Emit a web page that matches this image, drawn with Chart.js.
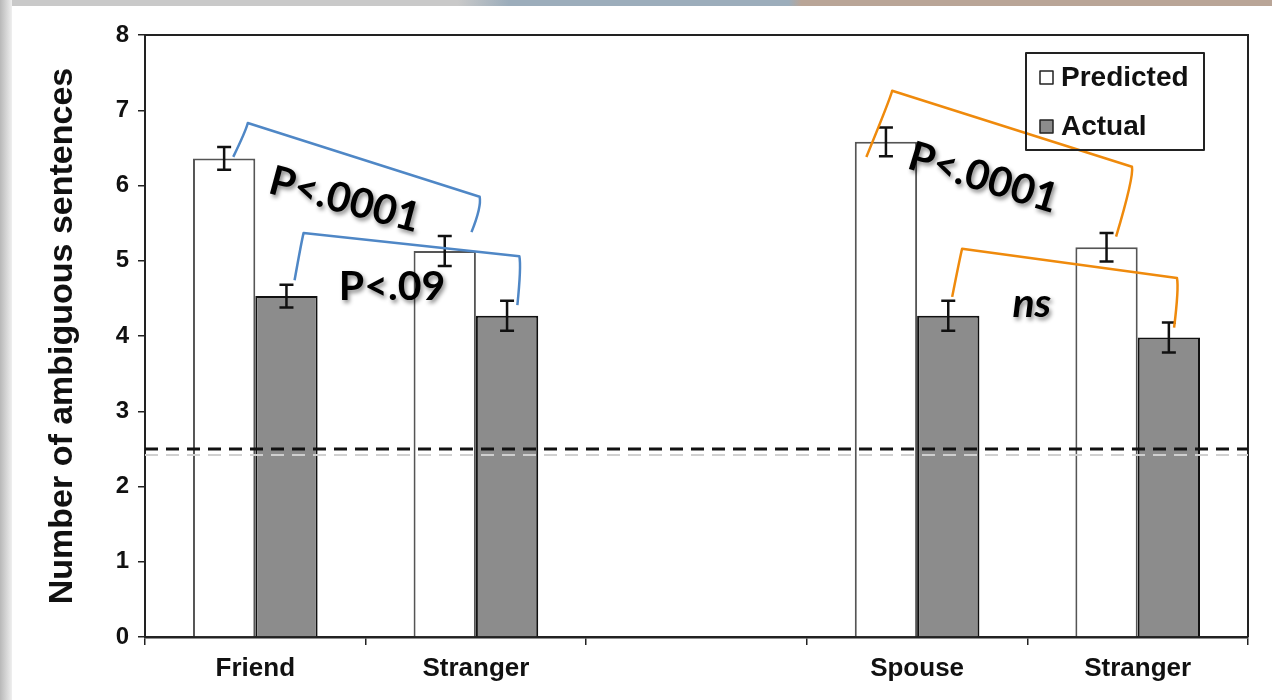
<!DOCTYPE html>
<html>
<head>
<meta charset="utf-8">
<script src="https://cdn.jsdelivr.net/npm/chart.js@4.4.0/dist/chart.umd.min.js"></script>
<style>
  html, body { margin: 0; padding: 0; background: #fff; }
  #wrap { position: relative; width: 1272px; height: 700px; overflow: hidden; background: #fff; }
  #strip { position: absolute; left: 0; top: 0; width: 1272px; height: 6px;
    background: linear-gradient(to right, #c9c9c9 0, #c9c9c9 36%, #9cadbb 40%, #9cadbb 62%, #b9a597 63%, #b9a597 100%); }
  #shade { position: absolute; left: 0; top: 0; width: 12px; height: 700px;
    background: linear-gradient(to right, #b8b8b8, #efefef); }
  canvas { position: absolute; left: 0; top: 0; }
</style>
</head>
<body>
<div id="wrap">
  <div id="strip"></div>
  <div id="shade"></div>
  <canvas id="barChart" width="1272" height="700"></canvas>
</div>
<script>
  // values
  const categories = ['Friend', 'Stranger', '', 'Spouse', 'Stranger'];
  const predicted = [6.36, 5.13, null, 6.58, 5.18];
  const actual = [4.53, 4.27, null, 4.27, 3.98];
  const predictedErr = [0.15, 0.2, null, 0.19, 0.19];
  const actualErr = [0.15, 0.2, null, 0.2, 0.2];
  const chanceLevel = 2.5;

  // significance brackets, points as [category position, value]
  const brackets = [
    { color: '#4f87c6', pts: [[-0.10, 6.38], [-0.034, 6.83], [1.017, 5.85], [0.98, 5.38]] },
    { color: '#4f87c6', pts: [[0.178, 4.74], [0.219, 5.37], [1.197, 5.06], [1.188, 4.41]] },
    { color: '#ef8a0c', pts: [[2.77, 6.38], [2.887, 7.26], [3.974, 6.25], [3.902, 5.32]] },
    { color: '#ef8a0c', pts: [[3.159, 4.52], [3.204, 5.16], [4.178, 4.77], [4.165, 4.11]] }
  ];
  const notes = [
    { text: 'P<.0001', at: [0.405, 5.81], angle: 15, italic: false },
    { text: 'P<.09', at: [0.62, 4.65], angle: 0, italic: false },
    { text: 'P<.0001', at: [3.30, 6.10], angle: 17, italic: false },
    { text: 'ns', at: [3.52, 4.43], angle: 0, italic: true }
  ];

  const axisFont = 'Liberation Sans, Arial, sans-serif';

  const overlay = {
    id: 'overlay',
    afterDatasetsDraw(chart) {
      const { ctx, chartArea: a, scales: { x, y } } = chart;
      const cw = x.getPixelForValue(1) - x.getPixelForValue(0);
      const px = c => x.getPixelForValue(0) + c * cw;

      // error bars
      const errs = [predictedErr, actualErr];
      chart.data.datasets.forEach((ds, di) => {
        chart.getDatasetMeta(di).data.forEach((bar, i) => {
          if (ds.data[i] == null) return;
          const top = y.getPixelForValue(ds.data[i] + errs[di][i]);
          const bot = y.getPixelForValue(ds.data[i] - errs[di][i]);
          ctx.save();
          ctx.strokeStyle = '#111';
          ctx.lineWidth = 2.5;
          ctx.beginPath();
          ctx.moveTo(bar.x, top); ctx.lineTo(bar.x, bot);
          ctx.moveTo(bar.x - 7, top); ctx.lineTo(bar.x + 7, top);
          ctx.moveTo(bar.x - 7, bot); ctx.lineTo(bar.x + 7, bot);
          ctx.stroke();
          ctx.restore();
        });
      });

      // frame
      ctx.save();
      ctx.strokeStyle = '#222';
      ctx.lineWidth = 2;
      ctx.beginPath();
      ctx.moveTo(a.left, a.top); ctx.lineTo(a.right, a.top); ctx.lineTo(a.right, a.bottom);
      ctx.stroke();

      // chance line (with faint ghost below)
      const cy = y.getPixelForValue(chanceLevel);
      ctx.setLineDash([13, 8]);
      ctx.lineWidth = 2;
      ctx.strokeStyle = '#d0d0d0';
      ctx.beginPath(); ctx.moveTo(a.left, cy + 6); ctx.lineTo(a.right, cy + 6); ctx.stroke();
      ctx.lineWidth = 3;
      ctx.strokeStyle = '#111';
      ctx.beginPath(); ctx.moveTo(a.left, cy); ctx.lineTo(a.right, cy); ctx.stroke();
      ctx.setLineDash([]);

      // brackets
      ctx.lineWidth = 2.5;
      ctx.lineJoin = 'round';
      brackets.forEach(b => {
        const p = b.pts.map(([c, v]) => [px(c), y.getPixelForValue(v)]);
        ctx.strokeStyle = b.color;
        ctx.beginPath();
        ctx.moveTo(p[0][0], p[0][1]);
        ctx.quadraticCurveTo(p[1][0] - 2, p[1][1] + 8, p[1][0], p[1][1]);
        ctx.lineTo(p[2][0], p[2][1]);
        ctx.quadraticCurveTo(p[2][0] + 2, p[2][1] + 10, p[3][0], p[3][1]);
        ctx.stroke();
      });

      // p-value labels
      notes.forEach(n => {
        ctx.save();
        ctx.translate(px(n.at[0]), y.getPixelForValue(n.at[1]));
        ctx.rotate(n.angle * Math.PI / 180);
        ctx.font = (n.italic ? 'italic ' : '') + 'bold 41px Lato, "Open Sans", sans-serif';
        ctx.textAlign = 'center';
        ctx.textBaseline = 'middle';
        ctx.shadowColor = 'rgba(0,0,0,0.45)';
        ctx.shadowBlur = 4;
        ctx.shadowOffsetX = 2;
        ctx.shadowOffsetY = 3;
        ctx.fillStyle = '#000';
        ctx.fillText(n.text, 0, 0);
        ctx.restore();
      });

      // legend box
      const lx = 1026, ly = 53;
      ctx.strokeStyle = '#222';
      ctx.lineWidth = 2;
      ctx.strokeRect(lx, ly, 178, 97);
      ctx.font = 'bold 28px ' + axisFont;
      ctx.textBaseline = 'middle';
      ctx.textAlign = 'left';
      chart.data.datasets.forEach((ds, i) => {
        const yy = ly + 25 + i * 49;
        ctx.fillStyle = ds.backgroundColor;
        ctx.fillRect(lx + 14, yy - 7, 13, 13);
        ctx.lineWidth = 1.5;
        ctx.strokeStyle = '#222';
        ctx.strokeRect(lx + 14, yy - 7, 13, 13);
        ctx.fillStyle = '#111';
        ctx.fillText(ds.label, lx + 35, yy);
      });
      ctx.restore();
    }
  };

  const ctx1 = document.getElementById('barChart');
  new Chart(ctx1, {
    type: 'bar',
    data: {
      labels: categories,
      datasets: [{
        label: 'Predicted',
        data: predicted,
        backgroundColor: '#ffffff',
        borderColor: '#555555',
        borderWidth: 2
      }, {
        label: 'Actual',
        data: actual,
        backgroundColor: '#8c8c8c',
        borderColor: '#111111',
        borderWidth: 2
      }]
    },
    options: {
      responsive: false,
      animation: false,
      categoryPercentage: 0.565,
      barPercentage: 1,
      layout: { padding: { top: 35, right: 24, bottom: 0, left: 0 } },
      plugins: { legend: { display: false }, tooltip: { enabled: false } },
      scales: {
        x: {
          afterFit: s => { s.height = 63; },
          grid: { display: true, drawOnChartArea: false, offset: true, tickLength: 8, color: '#222', lineWidth: 1.5 },
          border: { display: true, color: '#222', width: 2.5 },
          ticks: { color: '#111', padding: 8, font: { family: axisFont, size: 26, weight: 'bold' } }
        },
        y: {
          min: 0,
          max: 8,
          afterFit: s => { s.width = 145; },
          ticks: { stepSize: 1, color: '#111', padding: 9, font: { family: axisFont, size: 24, weight: 'bold' } },
          grid: { display: true, drawOnChartArea: false, tickLength: 7, color: '#222', lineWidth: 1.5 },
          border: { display: true, color: '#222', width: 2 },
          title: {
            display: true,
            text: 'Number of ambiguous sentences',
            color: '#111',
            padding: { top: 42, bottom: 0 },
            font: { family: axisFont, size: 34, weight: 'bold' }
          }
        }
      }
    },
    plugins: [overlay]
  });
</script>
</body>
</html>
